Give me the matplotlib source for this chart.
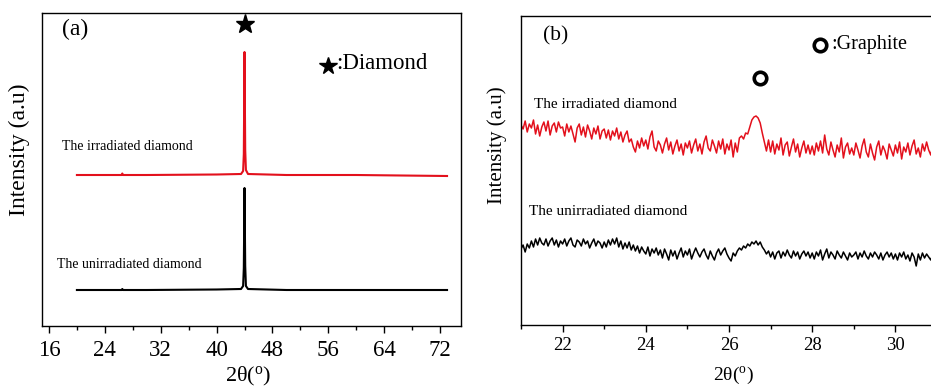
import matplotlib
matplotlib.use("Agg")
import matplotlib.pyplot as plt
import numpy as np

plt.rcParams['font.family'] = ['Liberation Serif', 'DejaVu Serif']
plt.rcParams['mathtext.fontset'] = 'custom'
plt.rcParams['mathtext.rm'] = 'Liberation Serif'
plt.rcParams['mathtext.it'] = 'Liberation Serif:italic'

# ---------------- Panel (a) data: wide scan ----------------
a_x = [20, 26.4, 26.5, 26.6, 30, 40, 43.5, 43.8, 43.9, 44.0, 44.1, 44.2, 44.5, 50, 60, 73]
a_irradiated = [151, 151, 152.5, 151, 151, 151.5, 152, 155, 172, 274, 176, 156, 152, 151, 151, 150]
a_unirradiated = [36, 36, 37, 36, 36, 36.5, 37, 40, 58, 138, 60, 40, 37, 36, 36, 36]
a_xticks = [16, 24, 32, 40, 48, 56, 64, 72]

# ---------------- Panel (b) data: narrow scan 21-31 deg, step 0.05 ----------------
b_x_start, b_x_step = 21.0, 0.05
b_irradiated = [
    200, 196, 204, 193, 201, 197, 205, 191, 200, 189, 198, 203, 194, 204, 190, 199, 202, 193, 203, 197,
    198, 189, 201, 193, 199, 191, 183, 197, 201, 190, 198, 188, 200, 194, 186, 197, 191, 199, 186, 194,
    196, 187, 195, 185, 194, 189, 197, 186, 193, 183, 190, 194, 183, 186, 178, 173, 184, 177, 187, 179,
    185, 176, 188, 194, 178, 174, 184, 180, 172, 181, 187, 175, 183, 171, 179, 185, 174, 181, 170, 182,
    177, 184, 172, 180, 186, 174, 181, 171, 183, 189, 177, 174, 185, 179, 172, 184, 176, 186, 171, 181,
    175, 185, 168, 182, 173, 187, 189, 186, 192, 191, 198, 205, 208, 209, 207, 202, 192, 183, 174, 185,
    173, 184, 171, 181, 175, 187, 170, 180, 183, 169, 178, 186, 173, 181, 168, 177, 184, 172, 180, 171,
    179, 170, 182, 174, 184, 172, 190, 176, 170, 183, 175, 168, 180, 173, 187, 167, 178, 182, 171, 177,
    170, 182, 175, 167, 179, 186, 173, 168, 181, 172, 165, 178, 184, 170, 179, 174, 166, 181, 175, 169,
    180, 172, 183, 166, 178, 173, 182, 170, 179, 185, 171, 177, 168, 181, 174, 183, 175, 170, 180, 176,
    177,
]
b_unirradiated = [
    76, 80, 73, 81, 77, 84, 78, 86, 80, 87, 82, 80, 86, 79, 84, 87, 80, 85, 78, 84,
    81, 86, 79, 84, 87, 80, 78, 85, 83, 79, 86, 81, 84, 77, 82, 86, 79, 84, 82, 77,
    83, 78, 85, 80, 86, 81, 87, 78, 84, 76, 82, 77, 83, 75, 80, 74, 79, 72, 78, 74,
    71, 78, 69, 76, 72, 77, 70, 75, 67, 76, 71, 65, 75, 69, 74, 66, 72, 77, 68, 74,
    70, 76, 66, 72, 77, 72, 68, 73, 76, 70, 66, 74, 69, 65, 72, 76, 70, 74, 77, 71,
    67, 64, 72, 69, 74, 77, 75, 79, 77, 81, 79, 83, 81, 84, 80, 83, 78, 75, 71, 74,
    68, 73, 66, 72, 74, 67, 73, 69, 75, 70, 67, 74, 69, 73, 66, 71, 74, 69, 73, 67,
    72, 66, 73, 69, 75, 65, 71, 76, 67, 73, 70, 66, 74, 70, 67, 73, 69, 65, 72, 68,
    70, 73, 66, 72, 68, 74, 69, 66, 72, 68, 73, 70, 66, 72, 65, 70, 73, 68, 72, 66,
    71, 65, 72, 68, 73, 66, 70, 64, 72, 68, 59, 71, 65, 72, 67, 71, 68, 65, 71, 67,
    69,
]
b_xticks = [22, 24, 26, 28, 30]
b_x = b_x_start + b_x_step * np.arange(len(b_irradiated))

labels = ["The irradiated diamond", "The unirradiated diamond"]
RED = '#e3101c'

fig = plt.figure(figsize=(9.31, 3.87), dpi=100)

# ---------------- Panel (a) ----------------
axa = fig.add_axes([42/931, 1-326/387, 419/931, 313/387])
axa.plot(a_x, a_irradiated, color=RED, lw=1.5)
axa.plot(a_x, a_unirradiated, color='black', lw=1.5)
axa.set_xlim(15, 75)
axa.set_ylim(0, 313)
axa.set_xticks(a_xticks)
axa.set_xticks([20, 28, 36, 44, 52, 60, 68], minor=True)
axa.set_yticks([])
axa.tick_params(axis='x', which='major', direction='out', length=5, width=1, labelsize=16.5, pad=5)
axa.tick_params(axis='x', which='minor', direction='out', length=3, width=1)
for s in axa.spines.values():
    s.set_linewidth(1.0)
axa.set_xlabel("2θ($^{\\mathrm{o}}$)", fontsize=16)
axa.xaxis.set_label_coords(0.492, -0.16)
axa.xaxis.label.set_va('center')
axa.set_ylabel("Intensity (a.u)", fontsize=17)
axa.yaxis.set_label_coords(-0.053, 0.562)
axa.yaxis.label.set_va('center')
axa.text(0.079, 0.946, "(a)", transform=axa.transAxes, fontsize=17, ha='center', va='center')
axa.plot([44.0], [302], marker='*', color='black', markersize=14, clip_on=False)
axa.plot([0.683], [0.832], marker='*', color='black', markersize=13, transform=axa.transAxes, clip_on=False)
axa.text(0.703, 0.840, ":Diamond", transform=axa.transAxes, fontsize=16.5, ha='left', va='center')
axa.text(0.048, 0.572, labels[0], transform=axa.transAxes, fontsize=10, ha='left', va='center')
axa.text(0.036, 0.195, labels[1], transform=axa.transAxes, fontsize=10, ha='left', va='center')

# ---------------- Panel (b) ----------------
axb = fig.add_axes([521/931, 1-325/387, 416/931, 309/387])
axb.plot(b_x, b_irradiated, color=RED, lw=1.1)
axb.plot(b_x, b_unirradiated, color='black', lw=1.1)
axb.set_xlim(21, 31)
axb.set_ylim(0, 309)
axb.set_xticks(b_xticks)
axb.set_xticks([21, 23, 25, 27, 29, 31], minor=True)
axb.set_yticks([])
axb.tick_params(axis='x', which='major', direction='out', length=5, width=1, labelsize=13.5, pad=4)
axb.tick_params(axis='x', which='minor', direction='out', length=3, width=1)
for s in axb.spines.values():
    s.set_linewidth(1.0)
axb.set_xlabel("2θ($^{\\mathrm{o}}$)", fontsize=14)
axb.xaxis.set_label_coords(0.51, -0.162)
axb.xaxis.label.set_va('center')
axb.set_ylabel("Intensity (a.u)", fontsize=15)
axb.yaxis.set_label_coords(-0.058, 0.583)
axb.yaxis.label.set_va('center')
axb.text(0.084, 0.935, "(b)", transform=axb.transAxes, fontsize=15.5, ha='center', va='center')
axb.plot([26.75], [247], marker='o', markersize=9, markerfacecolor='white',
         markeredgecolor='black', markeredgewidth=2.6, clip_on=False)
axb.plot([0.719], [0.906], marker='o', markersize=9, markerfacecolor='white',
         markeredgecolor='black', markeredgewidth=2.6, transform=axb.transAxes, clip_on=False)
axb.text(0.745, 0.909, ":Graphite", transform=axb.transAxes, fontsize=14.5, ha='left', va='center')
axb.text(0.031, 0.715, labels[0], transform=axb.transAxes, fontsize=11, ha='left', va='center')
axb.text(0.019, 0.366, labels[1], transform=axb.transAxes, fontsize=11, ha='left', va='center')

fig.savefig("out.png", dpi=100)
